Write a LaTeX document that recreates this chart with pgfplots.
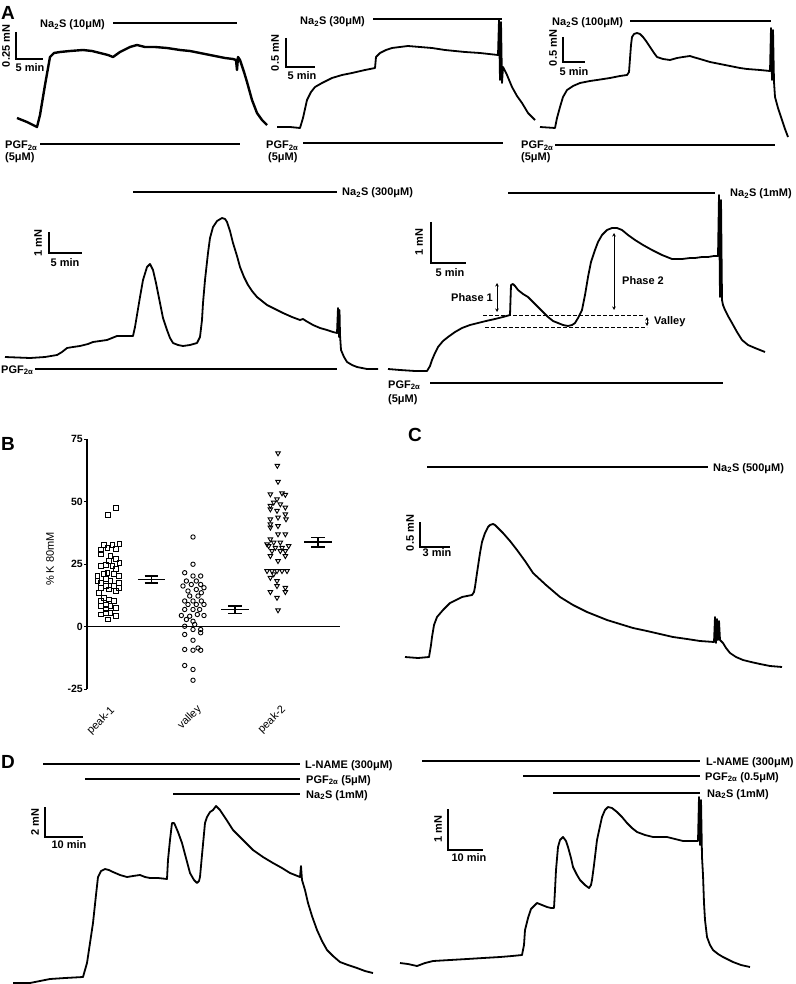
\documentclass[border=0pt]{standalone}
\usepackage{pgfplots}
\pgfplotsset{compat=1.18}
\usepackage{fontspec}
\setmainfont{Liberation Sans}
\usetikzlibrary{arrows.meta}
\tikzset{
  lab/.style={font=\fontsize{11}{13}\selectfont\bfseries, inner sep=0pt},
  big/.style={font=\fontsize{19}{21}\selectfont\bfseries, inner sep=0pt},
}
\pgfplotsset{
  trace/.style={black, line width=1.8pt, line join=round, mark=none},
  bar/.style={black, line width=1.5pt, mark=none},
  sb/.style={black, line width=1.3pt, mark=none},
  arr/.style={black, line width=0.7pt, mark=none, {Stealth[length=3.5pt,width=3.5pt]}-{Stealth[length=3.5pt,width=3.5pt]}},
  dsh/.style={black, line width=0.9pt, mark=none, dash pattern=on 4pt off 2pt},
}
\begin{document}
\begin{tikzpicture}
\begin{axis}[at={(0,0)}, anchor=south west, scale only axis, width=795pt, height=984pt,
  xmin=0, xmax=795, ymin=0, ymax=984, y dir=reverse, hide axis, clip=false]
% ---------------- A1 ----------------
\node[big, anchor=base west] at (axis cs:1,20) {A};
\addplot[bar] coordinates {(113,23) (237,23)};
\node[lab, anchor=base west] at (axis cs:40,28) {Na\textsubscript{2}S (10μM)};
\addplot[sb] coordinates {(16,32) (16,59) (43,59)};
\node[lab, rotate=90] at (axis cs:6,46) {0.25 mN};
\node[lab] at (axis cs:30,68) {5 min};
\addplot[trace, line width=2.4pt] coordinates {(17,118) (27,122) (37,127) (40,115) (45,85) (50,57) (54,53) (60,52) (70,51) (83,50) (92,51) (100,53) (108,55) (113,57) (120,52) (130,47) (137,45) (145,47) (155,47) (167,48) (180,50) (190,51) (200,53) (215,56) (225,58) (233,59) (236,60) (237,70) (238,57) (240,60) (244,72) (247,82) (252,100) (257,113) (262,120) (267,125)};
\node[lab, anchor=base west] at (axis cs:5,149) {PGF\textsubscript{2α}};
\node[lab, anchor=base west] at (axis cs:5,161) {(5μM)};
\addplot[bar] coordinates {(40,144) (240,144)};
% ---------------- A2 ----------------
\addplot[bar] coordinates {(373,19) (502,19)};
\node[lab, anchor=base west] at (axis cs:300,25) {Na\textsubscript{2}S (30μM)};
\addplot[sb] coordinates {(286,38) (286,67) (315,67)};
\node[lab, rotate=90] at (axis cs:275,53) {0.5 mN};
\node[lab] at (axis cs:302,76) {5 min};
\addplot[trace] coordinates {(277,127) (290,127) (300,128) (303,118) (307,100) (311,92) (315,87) (322,83) (332,78) (342,75) (352,73) (365,70) (375,68) (376,57) (380,53) (386,50) (392,48) (400,47) (408,46) (420,47) (432,48) (445,50) (465,52) (480,53) (498,55) (499,20) (500,80) (501,22) (502,83) (503,67) (507,75) (512,87) (517,96) (522,103) (528,113) (535,120)};
\node[lab, anchor=base west] at (axis cs:266,149) {PGF\textsubscript{2α}};
\node[lab, anchor=base west] at (axis cs:268,161) {(5μM)};
\addplot[bar] coordinates {(303,143) (503,143)};
% ---------------- A3 ----------------
\addplot[bar] coordinates {(630,21) (771,21)};
\node[lab, anchor=base west] at (axis cs:552,26) {Na\textsubscript{2}S (100μM)};
\addplot[sb] coordinates {(563,37) (563,62) (585,62)};
\node[lab, rotate=90] at (axis cs:553,48) {0.5 mN};
\node[lab] at (axis cs:574,72) {5 min};
\addplot[trace] coordinates {(540,127) (555,128) (557,118) (560,107) (563,97) (567,90) (573,86) (580,83) (590,81) (597,80) (610,78) (620,76) (627,75) (629,72) (631,45) (632,37) (634,34) (637,33) (640,34) (643,37) (646,41) (650,47) (654,53) (657,57) (663,59) (670,60) (677,58) (683,57) (690,56) (693,57) (700,59) (710,62) (720,64) (730,66) (740,68) (747,69) (760,70) (770,71) (771,28) (772,80) (773,30) (774,82) (775,97) (778,108) (782,120) (785,129) (788,137)};
\node[lab, anchor=base west] at (axis cs:521,149) {PGF\textsubscript{2α}};
\node[lab, anchor=base west] at (axis cs:521,161) {(5μM)};
\addplot[bar] coordinates {(555,145) (775,145)};
% ---------------- A4 ----------------
\addplot[bar] coordinates {(133,192) (337,192)};
\node[lab, anchor=base west] at (axis cs:342,196) {Na\textsubscript{2}S (300μM)};
\addplot[sb] coordinates {(49,232) (49,253) (82,253)};
\node[lab, rotate=90] at (axis cs:38,243) {1 mN};
\node[lab] at (axis cs:65,263) {5 min};
\addplot[trace] coordinates {(5,357) (30,358) (45,357) (57,355) (62,352) (67,348) (73,347) (80,346) (88,344) (93,342) (100,341) (107,340) (112,338) (117,336) (125,336) (133,336) (135,327) (137,315) (140,297) (143,280) (147,267) (150,264) (153,270) (156,283) (160,303) (163,318) (167,330) (170,338) (173,343) (178,345) (183,346) (190,345) (197,343) (200,337) (202,320) (203,303) (205,280) (208,253) (210,238) (213,227) (217,221) (222,218) (225,219) (227,222) (230,231) (233,243) (237,256) (240,267) (244,277) (248,285) (252,291) (257,297) (262,301) (267,305) (275,309) (283,313) (292,317) (300,320) (303,319) (306,321) (313,325) (320,328) (327,330) (333,332) (337,333) (338,308) (339,337) (339.5,310) (340,335) (341,350) (344,357) (347,362) (352,365) (357,367) (367,369) (378,369)};
\node[lab, anchor=base west] at (axis cs:1,373) {PGF\textsubscript{2α}};
\addplot[bar] coordinates {(35,369) (337,369)};
% ---------------- A5 ----------------
\addplot[bar] coordinates {(508,193) (715,193)};
\node[lab, anchor=base west] at (axis cs:730,197) {Na\textsubscript{2}S (1mM)};
\addplot[sb] coordinates {(431,222) (431,263) (466,263)};
\node[lab, rotate=90] at (axis cs:419,242) {1 mN};
\node[lab] at (axis cs:450,273) {5 min};
\addplot[trace] coordinates {(388,369) (400,370) (415,371) (427,371) (430,366) (432,360) (435,353) (438,347) (443,341) (448,337) (455,332) (462,328) (470,325) (478,323) (486,321) (495,319) (503,317) (510,315) (511,285) (513,284) (515,286) (518,290) (523,294) (528,297) (533,302) (538,307) (543,312) (548,317) (553,321) (558,323) (563,325) (568,326) (572,325) (575,323) (578,318) (582,310) (585,295) (588,277) (591,262) (595,250) (598,242) (602,235) (607,230) (612,228) (617,228) (622,230) (628,235) (635,240) (643,245) (652,250) (662,255) (672,259) (682,259) (690,258) (695,258) (702,257) (708,257) (714,256) (718,256) (719,195) (720,297) (721,200) (722,300) (723,305) (725,310) (728,316) (732,323) (737,332) (742,340) (748,345) (755,348) (765,352)};
\addplot[dsh] coordinates {(483,315) (645,315)};
\addplot[dsh] coordinates {(485,327) (647,327)};
\addplot[arr] coordinates {(497,283) (497,312)};
\addplot[arr] coordinates {(614,233) (614,310)};
\addplot[arr] coordinates {(647,317) (647,326)};
\node[lab, anchor=east] at (axis cs:493,298) {Phase 1};
\node[lab, anchor=west] at (axis cs:622,281) {Phase 2};
\node[lab, anchor=west] at (axis cs:654,322) {Valley};
\node[lab, anchor=base west] at (axis cs:388,388) {PGF\textsubscript{2α}};
\node[lab, anchor=base west] at (axis cs:388,402) {(5μM)};
\addplot[bar] coordinates {(430,383) (723,383)};
% ---------------- B letter ----------------
\node[big, anchor=base west] at (axis cs:1,450) {B};
% ---------------- C ----------------
\node[big, anchor=base west] at (axis cs:408,441) {C};
\addplot[bar] coordinates {(427,467) (708,467)};
\node[lab, anchor=base west] at (axis cs:713,471) {Na\textsubscript{2}S (500μM)};
\addplot[sb] coordinates {(420,522) (420,547) (450,547)};
\node[lab, rotate=90] at (axis cs:410,533) {0.5 mN};
\node[lab] at (axis cs:437,553) {3 min};
\addplot[trace] coordinates {(405,657) (418,658) (429,657) (431,645) (432,637) (434,625) (437,617) (443,610) (450,603) (456,600) (462,597) (467,596) (472,595) (474,592) (475,587) (477,573) (480,553) (482,542) (485,533) (488,527) (490,525) (493,524) (495,525) (499,529) (503,533) (510,541) (517,550) (525,561) (533,573) (546,585) (560,597) (573,605) (587,612) (597,616) (607,620) (620,624) (633,628) (647,631) (660,634) (673,637) (687,639) (700,641) (714,642) (715,617) (716,643) (717,619) (718,640) (719,621) (720,640) (723,643) (726,648) (730,653) (736,657) (743,660) (751,662) (760,664) (770,666) (782,667)};
% ---------------- D left ----------------
\node[big, anchor=base west] at (axis cs:1,768) {D};
\addplot[bar] coordinates {(43,764) (300,764)};
\addplot[bar] coordinates {(85,779) (300,779)};
\addplot[bar] coordinates {(173,794) (300,794)};
\node[lab, anchor=base west] at (axis cs:305,768) {L-NAME (300μM)};
\node[lab, anchor=base west] at (axis cs:306,783) {PGF\textsubscript{2α} (5μM)};
\node[lab, anchor=base west] at (axis cs:306,798) {Na\textsubscript{2}S (1mM)};
\addplot[sb] coordinates {(45,807) (45,837) (83,837)};
\node[lab, rotate=90] at (axis cs:35,822) {2 mN};
\node[lab] at (axis cs:69,845) {10 min};
\addplot[trace] coordinates {(13,983) (22,983) (30,983) (40,981) (50,979) (65,978) (83,977) (85,970) (87,963) (90,943) (93,923) (96,895) (98,877) (101,871) (105,869) (109,870) (113,872) (120,875) (127,877) (133,876) (140,875) (145,877) (150,878) (158,878) (167,879) (168,860) (170,840) (172,823) (174,823) (175,825) (178,832) (182,843) (186,858) (190,873) (194,880) (197,883) (199,881) (200,877) (202,855) (205,823) (207,817) (210,812) (213,810) (216,806) (218,808) (220,810) (226,819) (233,830) (243,840) (253,850) (263,857) (273,863) (282,868) (290,873) (300,877) (301,866) (302,880) (305,890) (308,903) (312,916) (317,930) (322,941) (327,950) (333,956) (340,962) (348,965) (357,968) (365,971) (373,973)};
% ---------------- D right ----------------
\addplot[bar] coordinates {(422,761) (700,761)};
\addplot[bar] coordinates {(523,776) (700,776)};
\addplot[bar] coordinates {(553,793) (700,793)};
\node[lab, anchor=base west] at (axis cs:706,765) {L-NAME (300μM)};
\node[lab, anchor=base west] at (axis cs:705,780) {PGF\textsubscript{2α} (0.5μM)};
\node[lab, anchor=base west] at (axis cs:707,797) {Na\textsubscript{2}S (1mM)};
\addplot[sb] coordinates {(448,809) (448,850) (483,850)};
\node[lab, rotate=90] at (axis cs:438,829) {1 mN};
\node[lab] at (axis cs:469,858) {10 min};
\addplot[trace] coordinates {(400,963) (408,964) (417,966) (425,963) (433,961) (450,960) (467,959) (483,958) (500,957) (512,956) (522,955) (524,945) (525,930) (528,918) (531,909) (533,907) (537,903) (542,905) (547,907) (551,908) (554,908) (555,890) (556,870) (558,847) (560,840) (563,837) (566,841) (568,847) (571,858) (573,867) (577,875) (580,880) (585,885) (589,888) (591,885) (592,880) (594,865) (597,840) (600,826) (602,817) (605,810) (608,807) (612,808) (617,812) (622,817) (627,823) (632,828) (637,832) (645,835) (653,837) (660,837) (667,837) (675,839) (683,841) (690,841) (698,841) (699,797) (700,845) (701,800) (702,857) (703,875) (704,903) (705,920) (707,937) (710,945) (713,950) (718,954) (723,957) (733,962) (741,965) (750,967)};
\end{axis}
% ---------------- B axis ----------------
\begin{axis}[at={(87pt,295pt)}, anchor=south west, scale only axis, width=253pt, height=250pt,
  xmin=0.753, xmax=3.729, ymin=-25, ymax=75,
  axis x line=none, axis y line=left, axis line style={-, line width=1.5pt},
  ytick={-25,0,25,50,75}, yticklabels={-25,0,25,50,75},
  tick style={black, line width=0.9pt}, major tick length=3pt, tick align=outside,
  yticklabel style={font=\fontsize{10.5}{12}\selectfont\bfseries, inner sep=1pt},
  ylabel={\% K 80mM},
  ylabel style={font=\fontsize{11}{13}\selectfont, at={(axis description cs:-0.146,0.52)}, anchor=center},
  clip=false]
\addplot[black, line width=1.6pt, mark=none] coordinates {(0.753,0) (3.729,0)};
\addplot[only marks, mark=square, mark size=2.3pt, mark options={black, line width=0.9pt, fill=white}] coordinates {
(1.0,44.5) (1.09,47.3) (0.953,32.6) (1.051,32.6) (1.137,33.0) (0.914,30.6) (0.992,31.5) (1.09,30.9)
(0.914,28.9) (1.031,28.2) (1.09,26.9) (1.137,25.5) (0.914,24.2) (0.973,24.6) (1.012,26.2) (1.051,24.2)
(1.09,22.9) (0.875,20.2) (0.953,20.9) (0.992,21.5) (1.071,20.9) (1.129,20.2) (0.875,18.2) (0.914,17.5)
(0.973,18.9) (1.031,18.2) (1.129,17.5) (0.914,15.5) (0.973,16.2) (1.012,14.8) (1.071,16.2) (1.129,15.5)
(0.953,11.5) (1.012,10.8) (1.071,10.2) (0.914,10.2) (0.914,8.2) (0.973,8.8) (1.031,8.2) (1.09,7.5)
(0.914,4.8) (0.973,5.5) (1.031,5.5) (1.09,4.1) (1.0,2.8) (0.973,6.8) (0.894,13.5) (1.09,14.2)};
\addplot[only marks, mark=o, mark size=2.2pt, mark options={black, line width=0.9pt}] coordinates {
(2.0,35.8) (2.0,24.9) (1.902,21.5) (2.0,20.2) (2.09,20.2) (1.922,18.2) (2.039,18.2) (1.882,16.2)
(1.98,16.8) (2.09,16.8) (2.129,15.5) (1.941,14.2) (2.039,14.8) (2.098,13.5) (1.961,12.2) (2.059,12.2)
(1.902,10.2) (2.0,10.2) (2.098,10.2) (1.941,8.8) (2.039,8.8) (2.129,8.8) (1.902,6.8) (2.0,6.8)
(2.078,6.8) (1.863,4.4) (1.961,4.1) (2.051,4.8) (2.129,4.4) (2.0,2.1) (1.902,0.1) (2.0,-1.2)
(2.09,-1.2) (1.902,-3.2) (2.09,-2.5) (2.0,-5.5) (1.902,-9.2) (2.0,-9.5) (2.059,-8.6) (2.09,-9.5)
(1.902,-15.6) (2.0,-17.2) (2.0,-21.5) (1.922,2.8) (2.02,0.8)};
\addplot[only marks, mark=triangle, mark size=2.6pt, mark options={black, line width=0.9pt, rotate=180}] coordinates {
(3.0,69.3) (2.992,64.3) (3.0,57.9) (2.91,52.9) (3.047,53.3) (3.086,52.7) (2.988,50.9) (2.949,49.6)
(2.91,48.3) (3.027,48.9) (3.086,47.6) (2.91,46.9) (2.988,46.3) (3.086,44.9) (3.0,43.6) (2.91,42.9)
(3.094,42.9) (2.91,40.9) (3.0,40.2) (2.91,39.6) (3.0,36.9) (3.086,36.9) (2.91,34.9) (2.871,32.9)
(2.949,33.6) (3.027,33.6) (3.125,32.2) (2.89,32.2) (2.969,31.5) (3.047,31.5) (2.929,30.2) (3.027,30.2)
(3.086,30.2) (3.086,28.2) (2.91,28.2) (3.0,26.2) (2.871,22.2) (2.929,22.2) (2.988,22.2) (3.047,22.2)
(3.106,22.2) (2.949,20.9) (2.91,19.5) (2.988,18.2) (2.988,16.2) (3.086,15.5) (2.91,13.8) (3.086,13.8)
(2.988,11.5) (3.0,6.5)};
% means and SEM
\addplot[black, line width=1.7pt, mark=none] coordinates {(1.352,18.8) (1.672,18.8)};
\addplot[black, line width=1.2pt, mark=none] coordinates {(1.432,17.4) (1.592,17.4)};
\addplot[black, line width=1.2pt, mark=none] coordinates {(1.432,20.2) (1.592,20.2)};
\addplot[black, line width=1.2pt, mark=none] coordinates {(1.512,17.4) (1.512,20.2)};
\addplot[black, line width=1.7pt, mark=none] coordinates {(2.334,6.8) (2.654,6.8)};
\addplot[black, line width=1.2pt, mark=none] coordinates {(2.414,5.3) (2.574,5.3)};
\addplot[black, line width=1.2pt, mark=none] coordinates {(2.414,8.2) (2.574,8.2)};
\addplot[black, line width=1.2pt, mark=none] coordinates {(2.494,5.3) (2.494,8.2)};
\addplot[black, line width=1.7pt, mark=none] coordinates {(3.31,33.7) (3.63,33.7)};
\addplot[black, line width=1.2pt, mark=none] coordinates {(3.39,31.8) (3.55,31.8)};
\addplot[black, line width=1.2pt, mark=none] coordinates {(3.39,35.6) (3.55,35.6)};
\addplot[black, line width=1.2pt, mark=none] coordinates {(3.47,31.8) (3.47,35.6)};
\node[font=\fontsize{11}{13}\selectfont, rotate=45, anchor=east, inner sep=0pt] at (axis cs:1.06,-33) {peak-1};
\node[font=\fontsize{11}{13}\selectfont, rotate=45, anchor=east, inner sep=0pt] at (axis cs:2.08,-32.5) {valley};
\node[font=\fontsize{11}{13}\selectfont, rotate=45, anchor=east, inner sep=0pt] at (axis cs:3.07,-32.5) {peak-2};
\end{axis}
\pgfresetboundingbox
\path (0,0) rectangle (795pt,984pt);
\end{tikzpicture}
\end{document}
